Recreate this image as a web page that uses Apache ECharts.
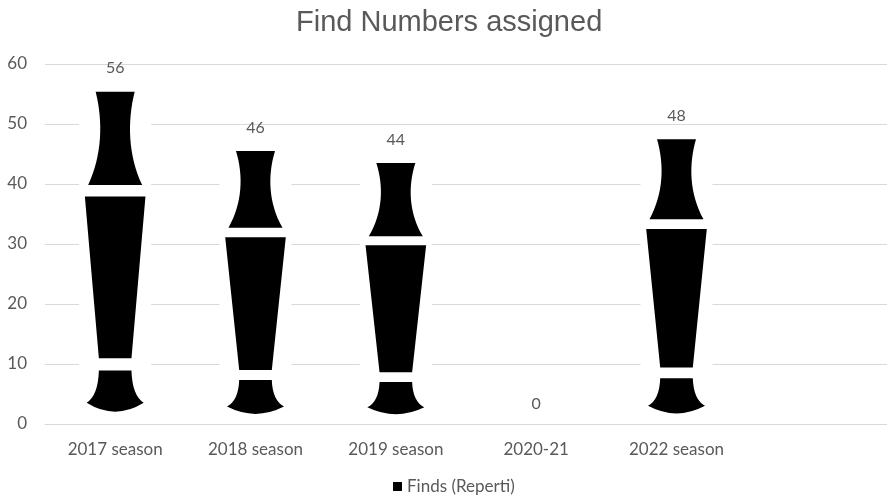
<!DOCTYPE html>
<html>
<head>
<meta charset="utf-8">
<script src="https://cdn.jsdelivr.net/npm/echarts@6/dist/echarts.min.js"></script>
<style>html,body{margin:0;padding:0;background:#fff;}#c{width:887px;height:502px;}</style>
</head>
<body>
<div id="c"></div>
<script>
const categories = ['2017 season', '2018 season', '2019 season', '2020-21', '2022 season', ''];
const finds = [56, 46, 44, 0, 48];
const yTicks = [0, 10, 20, 30, 40, 50, 60];
const seriesName = 'Finds (Reperti)';

// vase symbol in a 72 x 1000 box (corner markers keep the margins)
const vasePath = 'path://' +
  'M0,0 L0.01,0 L0,0.01 Z ' +
  'M72,1000 L71.99,1000 L72,999.99 Z ' +
  'M16.5,11 L55.5,11 C48,100 49,200 63,289 L9,289 C23,200 24,100 16.5,11 Z ' +
  'M5.7,323 L66.3,323 L52.3,804 L19.7,804 Z ' +
  'M19.7,841 L52.3,841 Q53,915 64.5,937 Q36,990 7.5,937 Q19,915 19.7,841 Z';

const chart = echarts.init(document.getElementById('c'));
const font = 'Lato, "Open Sans", sans-serif';
chart.setOption({
  backgroundColor: '#fff',
  animation: false,
  title: {
    text: 'Find Numbers assigned',
    left: 291, top: 3,
    textStyle: { fontFamily: '"Liberation Sans", Arial, sans-serif', fontSize: 29, fontWeight: 'normal', color: '#595959' }
  },
  legend: {
    data: [seriesName],
    bottom: 2, left: 388,
    icon: 'rect', itemWidth: 9, itemHeight: 9, itemGap: 5,
    textStyle: { fontFamily: font, fontSize: 17, color: '#595959' }
  },
  grid: { left: 45, right: -3, top: 64, bottom: 78 },
  xAxis: {
    type: 'category', data: categories, z: 10,
    axisLine: { lineStyle: { color: '#d9d9d9', width: 1 } },
    axisTick: { show: false },
    axisLabel: { fontFamily: font, fontSize: 17, color: '#595959', margin: 17 }
  },
  yAxis: {
    type: 'value', min: yTicks[0], max: yTicks[yTicks.length - 1], interval: 10,
    axisLine: { show: false }, axisTick: { show: false },
    axisLabel: { fontFamily: font, fontSize: 17, color: '#595959', margin: 18 },
    splitLine: { lineStyle: { color: '#d9d9d9', width: 1 } }
  },
  series: [
    {
      name: 'bg', type: 'pictorialBar', data: finds,
      symbol: 'rect', symbolSize: [72, '100%'], symbolRepeat: false,
      itemStyle: { color: '#ffffff' }, barGap: '-100%', z: 2, silent: true
    },
    {
      name: seriesName, type: 'pictorialBar', data: finds,
      symbol: vasePath, symbolSize: [72, '100%'], symbolRepeat: false,
      itemStyle: { color: '#000000' }, barGap: '-100%', z: 3,
      label: { show: true, position: 'top', distance: 12, fontFamily: font, fontSize: 16, color: '#595959' }
    }
  ]
});
</script>
</body>
</html>
